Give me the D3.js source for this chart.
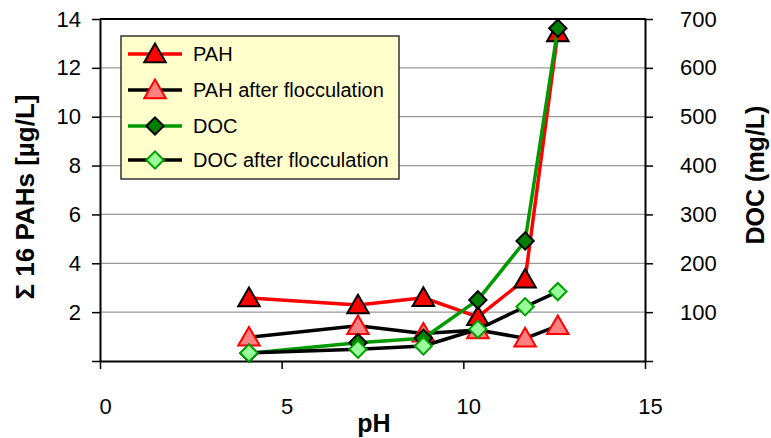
<!DOCTYPE html>
<html>
<head>
<meta charset="utf-8">
<script src="https://cdn.jsdelivr.net/npm/d3@7"></script>
<style>
  html, body { margin: 0; padding: 0; background: #fff; }
  svg { display: block; font-family: "Liberation Sans", Arial, sans-serif; }
</style>
</head>
<body>
<svg id="chart" width="771" height="438"></svg>
<script>
// ---- data ----
const pH = [4.1, 7.1, 8.9, 10.4, 11.7, 12.6];
const pah = [2.58, 2.29, 2.59, 1.81, 3.34, 13.43];
const pahFloc = [0.97, 1.44, 1.13, 1.27, 0.93, 1.44];
const doc = [15.8, 37.5, 46.5, 125, 245.6, 681];
const docFloc = [16.4, 24, 30.7, 65, 111, 142];
const leftTicks = [0, 2, 4, 6, 8, 10, 12, 14];
const rightTicks = [0, 100, 200, 300, 400, 500, 600, 700];
const xTicks = [0, 5, 10, 15];
const seriesNames = ["PAH", "PAH after flocculation", "DOC", "DOC after flocculation"];

// ---- layout ----
const L = 100, R = 645, T = 19, B = 361;
const svg = d3.select("#chart");
const x = d3.scaleLinear().domain([0, 15]).range([L, R]);
const yL = d3.scaleLinear().domain([0, 14]).range([B, T]);
const yR = d3.scaleLinear().domain([0, 700]).range([B, T]);

// gridlines
svg.append("g").selectAll("line").data(leftTicks.filter(d => d > 0 && d < 14)).join("line")
  .attr("x1", L).attr("x2", R).attr("y1", d => yL(d)).attr("y2", d => yL(d))
  .attr("stroke", "#999").attr("stroke-width", 1.2);

// top frame
svg.append("line").attr("x1", L).attr("x2", R + 1).attr("y1", T).attr("y2", T)
  .attr("stroke", "#000").attr("stroke-width", 2);

function styleAxis(g) {
  g.select(".domain").attr("stroke", "#000").attr("stroke-width", 2);
  g.selectAll(".tick line").attr("stroke", "#000").attr("stroke-width", 1.5);
  g.selectAll(".tick text").attr("fill", "#000").attr("font-size", 22);
}

// left axis
const gL = svg.append("g").attr("transform", `translate(${L},0)`)
  .call(d3.axisLeft(yL).tickValues(leftTicks).tickSize(8).tickSizeOuter(0)
    .tickFormat(d => d === 0 ? "" : d));
styleAxis(gL);
gL.selectAll(".tick text").attr("x", -19);

// right axis
const gR = svg.append("g").attr("transform", `translate(${R},0)`)
  .call(d3.axisRight(yR).tickValues(rightTicks).tickSize(8).tickSizeOuter(0)
    .tickFormat(d => d === 0 ? "" : d));
styleAxis(gR);
gR.selectAll(".tick text").attr("x", 35);

// bottom axis
const gB = svg.append("g").attr("transform", `translate(0,${B})`)
  .call(d3.axisBottom(x).tickValues(xTicks).tickSize(8).tickSizeOuter(0));
styleAxis(gB);
gB.selectAll(".tick text").attr("y", 37).attr("x", 5);

// axis titles
svg.append("text").attr("transform", `translate(34,197) rotate(-90)`)
  .attr("text-anchor", "middle").attr("font-weight", "bold").attr("font-size", 26)
  .text("Σ 16 PAHs [µg/L]");
svg.append("text").attr("transform", `translate(764,175) rotate(-90)`)
  .attr("text-anchor", "middle").attr("font-weight", "bold").attr("font-size", 25)
  .text("DOC (mg/L)");
svg.append("text").attr("x", 374).attr("y", 432)
  .attr("text-anchor", "middle").attr("font-weight", "bold").attr("font-size", 25)
  .text("pH");

// series
const triangle = d3.symbol().type(d3.symbolTriangle).size(200);
const diamond = d3.symbol().type(d3.symbolSquare).size(150);

const series = [
  { vals: pah, y: yL, line: "#ff0000", shape: "tri", fill: "#ff0000", stroke: "#000" },
  { vals: pahFloc, y: yL, line: "#000000", shape: "tri", fill: "#ff8080", stroke: "#ff0000" },
  { vals: doc, y: yR, line: "#009900", shape: "dia", fill: "#008000", stroke: "#000" },
  { vals: docFloc, y: yR, line: "#000000", shape: "dia", fill: "#99ff99", stroke: "#00a000" }
];

function marker(sel, s, cx, cy) {
  if (s.shape === "tri") {
    sel.append("path").attr("d", triangle())
      .attr("transform", `translate(${cx},${cy + 2})`)
      .attr("fill", s.fill).attr("stroke", s.stroke).attr("stroke-width", 2);
  } else {
    sel.append("path").attr("d", diamond())
      .attr("transform", `translate(${cx},${cy}) rotate(45)`)
      .attr("fill", s.fill).attr("stroke", s.stroke).attr("stroke-width", 2);
  }
}

series.forEach(s => {
  const pts = pH.map((p, i) => [x(p), s.y(s.vals[i])]);
  svg.append("path").attr("d", d3.line()(pts))
    .attr("fill", "none").attr("stroke", s.line).attr("stroke-width", 3.5)
    .attr("stroke-linejoin", "round");
  const g = svg.append("g");
  pts.forEach(p => marker(g, s, p[0], p[1]));
});

// legend
const lg = svg.append("g");
lg.append("rect").attr("x", 121).attr("y", 36).attr("width", 278).attr("height", 143)
  .attr("fill", "#ffffcc").attr("stroke", "#333").attr("stroke-width", 1.5);
const rowY = [54, 90, 126, 160];
series.forEach((s, i) => {
  lg.append("line").attr("x1", 128).attr("x2", 182).attr("y1", rowY[i]).attr("y2", rowY[i])
    .attr("stroke", s.line).attr("stroke-width", 3.5);
  marker(lg, s, 155, rowY[i]);
  lg.append("text").attr("x", 193).attr("y", rowY[i]).attr("dy", "0.36em")
    .attr("font-size", 20).attr("fill", "#000").text(seriesNames[i]);
});
</script>
</body>
</html>
